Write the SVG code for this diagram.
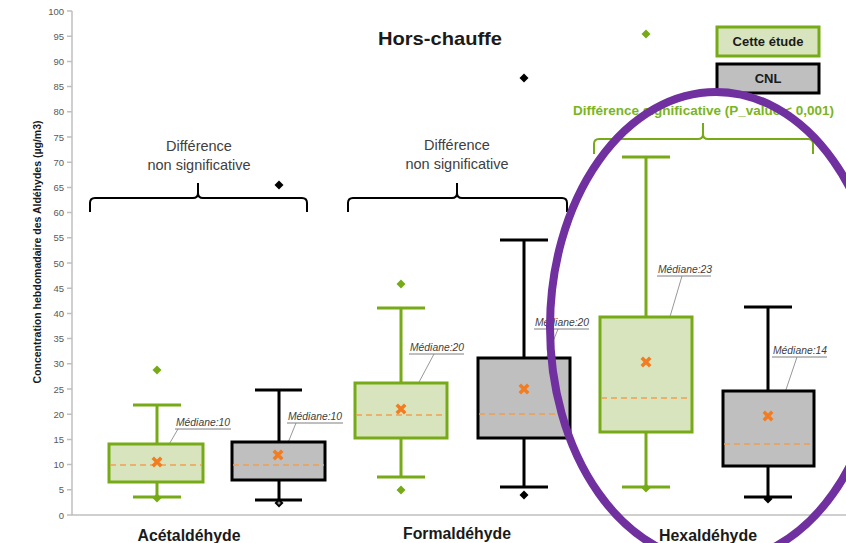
<svg xmlns="http://www.w3.org/2000/svg" width="846" height="543" viewBox="0 0 846 543">
<defs>
<style>
.tick{font-family:"Liberation Sans",Arial,sans-serif;font-size:9.5px;fill:#595959;text-anchor:end}
.axis{stroke:#bfbfbf;stroke-width:1.5;fill:none}
.gbox{fill:#d7e4bd;stroke:#76ab17;stroke-width:3}
.cbox{fill:#bfbfbf;stroke:#000;stroke-width:3}
.gw{stroke:#76ab17;stroke-width:3;fill:none}
.cw{stroke:#000;stroke-width:3;fill:none}
.med{stroke:#f0a050;stroke-width:1.5;stroke-dasharray:6 4}
.mean{stroke:#f47c20;stroke-width:3.5;stroke-linecap:square}
.gdia{fill:#76ab17}
.cdia{fill:#000}
.mlab{font-family:"Liberation Sans",Arial,sans-serif;font-style:italic;font-size:10px;fill:#404040}
.uline{stroke:#7f7f7f;stroke-width:1}
.leader{stroke:#8c8c8c;stroke-width:0.9}
.xlab{font-family:"Liberation Sans",Arial,sans-serif;font-weight:bold;font-size:16px;fill:#1a1a1a;text-anchor:middle}
.note{font-family:"Liberation Sans",Arial,sans-serif;font-size:14.5px;fill:#404040;text-anchor:middle}
.brace{stroke:#000;stroke-width:2;fill:none}
.gbrace{stroke:#76ab17;stroke-width:2;fill:none}
.leg{font-family:"Liberation Sans",Arial,sans-serif;font-weight:bold;font-size:13px;fill:#1a1a1a;text-anchor:middle}
</style>
<path id="dia" d="M0,-4.5 L4.5,0 L0,4.5 L-4.5,0 Z"/>
<path id="mx" d="M-3,-3 L3,3 M3,-3 L-3,3"/>
</defs>

<g id="axes">
<line class="axis" x1="72" y1="11" x2="72" y2="515"/>
<line class="axis" x1="72" y1="515" x2="846" y2="515"/>
<path class="axis" stroke-width="1" d="M67,515H72M67,489.8H72M67,464.6H72M67,439.4H72M67,414.2H72M67,389H72M67,363.8H72M67,338.6H72M67,313.4H72M67,288.2H72M67,263H72M67,237.8H72M67,212.6H72M67,187.4H72M67,162.2H72M67,137H72M67,111.8H72M67,86.6H72M67,61.4H72M67,36.2H72M67,11H72"/>
<text class="tick" x="64" y="518.5">0</text>
<text class="tick" x="64" y="493.3">5</text>
<text class="tick" x="64" y="468.1">10</text>
<text class="tick" x="64" y="442.9">15</text>
<text class="tick" x="64" y="417.7">20</text>
<text class="tick" x="64" y="392.5">25</text>
<text class="tick" x="64" y="367.3">30</text>
<text class="tick" x="64" y="342.1">35</text>
<text class="tick" x="64" y="316.9">40</text>
<text class="tick" x="64" y="291.7">45</text>
<text class="tick" x="64" y="266.5">50</text>
<text class="tick" x="64" y="241.3">55</text>
<text class="tick" x="64" y="216.1">60</text>
<text class="tick" x="64" y="190.9">65</text>
<text class="tick" x="64" y="165.7">70</text>
<text class="tick" x="64" y="140.5">75</text>
<text class="tick" x="64" y="115.3">80</text>
<text class="tick" x="64" y="90.1">85</text>
<text class="tick" x="64" y="64.9">90</text>
<text class="tick" x="64" y="39.7">95</text>
<text class="tick" x="64" y="14.5">100</text>
<text transform="translate(41,252) rotate(-90)" text-anchor="middle" font-family="'Liberation Sans',Arial,sans-serif" font-weight="bold" font-size="10" fill="#1a1a1a" textLength="263" lengthAdjust="spacingAndGlyphs">Concentration hebdomadaire des Aldéhydes (µg/m3)</text>
</g>

<g id="title">
<text x="440" y="45" text-anchor="middle" font-family="'Liberation Sans',Arial,sans-serif" font-weight="bold" font-size="19" fill="#1a1a1a" textLength="124" lengthAdjust="spacingAndGlyphs">Hors-chauffe</text>
</g>

<g id="legend">
<rect class="gbox" x="717" y="27" width="102" height="29"/>
<text class="leg" x="768" y="46">Cette étude</text>
<rect class="cbox" x="717" y="64" width="102" height="29"/>
<text class="leg" x="768" y="83">CNL</text>
</g>

<g id="connectors">
<path class="leader" d="M178,429 L157,465"/>
<path class="leader" d="M296,423 L279,465"/>
<path class="leader" d="M434,354 L402,414"/>
<path class="leader" d="M558,329 L524,414"/>
<path class="leader" d="M682,276 L646,398"/>
<path class="leader" d="M797,357 L768,443"/>
</g>

<g id="acet-etude">
<path class="gw" d="M157,444V405M133,405H181M157,482V497M133,497H181"/>
<rect class="gbox" x="109" y="444" width="94" height="38"/>
<line class="med" x1="110" y1="465" x2="202" y2="465"/>
<use href="#mx" class="mean" x="157" y="462"/>
<use href="#dia" class="gdia" x="157" y="370"/>
<use href="#dia" class="gdia" x="157" y="498"/>
<text class="mlab" x="176" y="426" textLength="54" lengthAdjust="spacingAndGlyphs">Médiane:10</text>
<line class="uline" x1="175" y1="429" x2="231" y2="429"/>
</g>

<g id="acet-cnl">
<path class="cw" d="M279,442V390M255,390H302M279,480V500M255,500H302"/>
<rect class="cbox" x="232" y="442" width="93" height="38"/>
<line class="med" x1="233" y1="465" x2="324" y2="465"/>
<use href="#mx" class="mean" x="278" y="455"/>
<use href="#dia" class="cdia" x="279" y="185"/>
<use href="#dia" class="cdia" x="279" y="503"/>
<circle cx="279" cy="503" r="1.5" fill="#888"/>
<text class="mlab" x="288" y="420" textLength="54" lengthAdjust="spacingAndGlyphs">Médiane:10</text>
<line class="uline" x1="287" y1="423" x2="343" y2="423"/>
</g>

<g id="form-etude">
<path class="gw" d="M401,383V308M377,308H425M401,438V477M377,477H425"/>
<rect class="gbox" x="355" y="383" width="92" height="55"/>
<line class="med" x1="356" y1="415" x2="446" y2="415"/>
<use href="#mx" class="mean" x="401" y="409"/>
<use href="#dia" class="gdia" x="401" y="284"/>
<use href="#dia" class="gdia" x="401" y="490"/>
<text class="mlab" x="410" y="351" textLength="54" lengthAdjust="spacingAndGlyphs">Médiane:20</text>
<line class="uline" x1="409" y1="354" x2="464" y2="354"/>
</g>

<g id="form-cnl">
<path class="cw" d="M524,358V240M500,240H548M524,438V487M500,487H548"/>
<rect class="cbox" x="478" y="358" width="92" height="80"/>
<line class="med" x1="479" y1="414" x2="569" y2="414"/>
<use href="#mx" class="mean" x="524" y="389"/>
<use href="#dia" class="cdia" x="524" y="78"/>
<use href="#dia" class="cdia" x="524" y="495"/>
<text class="mlab" x="535" y="326" textLength="54" lengthAdjust="spacingAndGlyphs">Médiane:20</text>
<line class="uline" x1="534" y1="329" x2="589" y2="329"/>
</g>

<g id="hex-etude">
<path class="gw" d="M646,317V157M622,157H670M646,432V487M622,487H670"/>
<rect class="gbox" x="600" y="317" width="92" height="115"/>
<line class="med" x1="601" y1="398" x2="691" y2="398"/>
<use href="#mx" class="mean" x="646" y="362"/>
<use href="#dia" class="gdia" x="646" y="34"/>
<use href="#dia" class="gdia" x="646" y="488"/>
<text class="mlab" x="658" y="273" textLength="54" lengthAdjust="spacingAndGlyphs">Médiane:23</text>
<line class="uline" x1="657" y1="276" x2="711" y2="276"/>
</g>

<g id="hex-cnl">
<path class="cw" d="M768,391V307M744,307H792M768,466V497M744,497H792"/>
<rect class="cbox" x="723" y="391" width="91" height="75"/>
<line class="med" x1="724" y1="444" x2="813" y2="444"/>
<use href="#mx" class="mean" x="768" y="416"/>
<use href="#dia" class="cdia" x="768" y="499"/>
<text class="mlab" x="773" y="354" textLength="54" lengthAdjust="spacingAndGlyphs">Médiane:14</text>
<line class="uline" x1="772" y1="357" x2="827" y2="357"/>
</g>

<g id="note-acet">
<text class="note" x="199" y="151">Différence</text>
<text class="note" x="199" y="170">non significative</text>
<path class="brace" d="M90,212V203Q90,198 95,198H193Q198,198 198,193V183V193Q198,198 203,198H302Q307,198 307,203V212"/>
</g>

<g id="note-form">
<text class="note" x="457" y="150">Différence</text>
<text class="note" x="457" y="169">non significative</text>
<path class="brace" d="M348,212V203Q348,198 353,198H452Q457,198 457,193V183V193Q457,198 462,198H562Q567,198 567,203V212"/>
</g>

<g id="note-hex">
<text x="703.5" y="115" text-anchor="middle" font-family="'Liberation Sans',Arial,sans-serif" font-weight="bold" font-size="13.5" fill="#7ab51d" textLength="261" lengthAdjust="spacingAndGlyphs">Différence significative (P_value &lt; 0,001)</text>
<path class="gbrace" d="M594,154V144Q594,139 599,139H698Q703,139 703,134V123V134Q703,139 708,139H808Q813,139 813,144V154"/>
</g>

<g id="xlabels">
<text class="xlab" x="189" y="541" textLength="103" lengthAdjust="spacingAndGlyphs">Acétaldéhyde</text>
<text class="xlab" x="457" y="539" textLength="108" lengthAdjust="spacingAndGlyphs">Formaldéhyde</text>
<text class="xlab" x="708" y="541" textLength="98" lengthAdjust="spacingAndGlyphs">Hexaldéhyde</text>
</g>

<g id="highlight">
<ellipse cx="716" cy="327" rx="166" ry="235" fill="none" stroke="#7030a0" stroke-width="8"/>
</g>
</svg>
